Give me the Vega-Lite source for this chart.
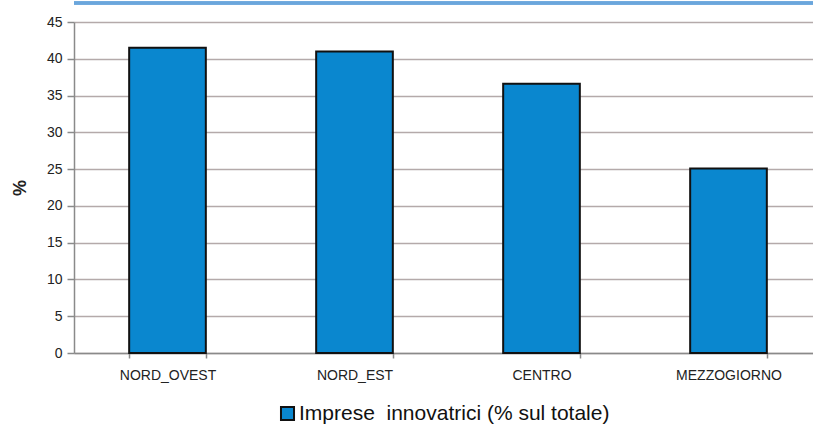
{
  "$schema": "https://vega.github.io/schema/vega-lite/v6.json",
  "width": 748,
  "height": 331,
  "autosize": "none",
  "padding": {"left": 74, "top": 22, "right": 0, "bottom": 73},
  "background": "white",
  "config": {
    "font": "Liberation Sans",
    "view": {"stroke": null},
    "axis": {"labelFont": "Liberation Sans", "titleFont": "Liberation Sans"}
  },
  "data": {
    "values": [
      {"area": "NORD_OVEST", "valore": 41.5, "serie": "Imprese \u00a0innovatrici (% sul totale)"},
      {"area": "NORD_EST", "valore": 41.0, "serie": "Imprese \u00a0innovatrici (% sul totale)"},
      {"area": "CENTRO", "valore": 36.6, "serie": "Imprese \u00a0innovatrici (% sul totale)"},
      {"area": "MEZZOGIORNO", "valore": 25.1, "serie": "Imprese \u00a0innovatrici (% sul totale)"}
    ]
  },
  "layer": [
    {
      "mark": {"type": "bar", "stroke": "#111111", "strokeWidth": 2},
      "encoding": {
        "x": {
          "field": "area",
          "type": "nominal",
          "sort": null,
          "scale": {"paddingInner": 0.59, "paddingOuter": 0.295},
          "axis": {
            "title": null,
            "labelAngle": 0,
            "labelFontSize": 14,
            "labelColor": "#222222",
            "labelPadding": 10,
            "domainColor": "#8a8a8a",
            "domainWidth": 1.5,
            "tickColor": "#8a8a8a",
            "tickBand": "extent",
            "tickSize": 5,
            "tickWidth": 1.5,
            "grid": false
          }
        },
        "y": {
          "field": "valore",
          "type": "quantitative",
          "scale": {"domain": [0, 45], "nice": false},
          "axis": {
            "title": "%",
            "titleFontSize": 18,
            "titleFontWeight": "bold",
            "titleColor": "#222222",
            "titlePadding": 17,
            "values": [0, 5, 10, 15, 20, 25, 30, 35, 40, 45],
            "labelFontSize": 14,
            "labelColor": "#222222",
            "labelPadding": 5,
            "domainColor": "#8a8a8a",
            "domainWidth": 1.5,
            "tickColor": "#8a8a8a",
            "tickSize": 7,
            "tickWidth": 1.5,
            "grid": true,
            "gridColor": "#b4aaaa",
            "gridWidth": 1.5
          }
        },
        "color": {
          "field": "serie",
          "type": "nominal",
          "scale": {"range": ["#0a87cf"]},
          "legend": {
            "title": null,
            "orient": "none",
            "legendX": 203,
            "legendY": 381,
            "symbolType": "square",
            "symbolSize": 170,
            "symbolStrokeColor": "#111111",
            "symbolStrokeWidth": 2,
            "labelFontSize": 21,
            "labelColor": "#111111",
            "labelOffset": 1,
            "labelLimit": 600
          }
        }
      }
    },
    {
      "mark": {"type": "rule", "color": "#6aa6dc", "strokeWidth": 3, "clip": false},
      "encoding": {
        "y": {
          "datum": 47.6,
          "type": "quantitative",
          "axis": {
            "title": "%",
            "titleFontSize": 18,
            "titleFontWeight": "bold",
            "titleColor": "#222222",
            "titlePadding": 17,
            "values": [0, 5, 10, 15, 20, 25, 30, 35, 40, 45],
            "labelFontSize": 14,
            "labelColor": "#222222",
            "labelPadding": 5,
            "domainColor": "#8a8a8a",
            "domainWidth": 1.5,
            "tickColor": "#8a8a8a",
            "tickSize": 7,
            "tickWidth": 1.5,
            "grid": true,
            "gridColor": "#b4aaaa",
            "gridWidth": 1.5
          }
        }
      }
    }
  ]
}
